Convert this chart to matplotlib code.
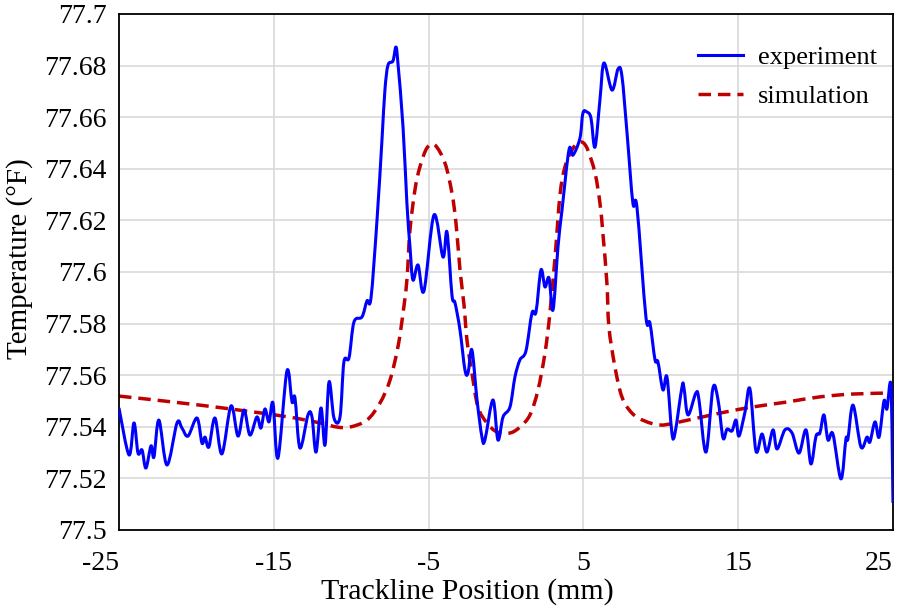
import numpy as np
import matplotlib
matplotlib.use("Agg")
import matplotlib.pyplot as plt
from matplotlib.path import Path
from matplotlib.patches import PathPatch
from matplotlib.lines import Line2D

# experiment trace (Trackline position in mm, temperature in F)
exp_x = [-25.00, -24.35, -24.03, -23.77, -23.51, -23.26, -22.93, -22.74, -22.42, -21.90,
         -21.25, -20.93, -20.54, -19.96, -19.64, -19.44, -19.19, -18.80, -18.35, -17.76,
         -17.31, -16.92, -16.54, -16.09, -15.83, -15.57, -15.31, -15.05, -14.73, -14.15,
         -13.82, -13.63, -13.31, -12.79, -12.53, -12.27, -11.95, -11.69, -11.43, -11.11,
         -10.72, -10.47, -10.14, -9.82, -9.30, -8.98, -8.72, -8.33, -8.01, -7.82,
         -7.62, -7.30, -7.11, -6.98, -6.65, -6.40, -6.20, -6.01, -5.68, -5.30,
         -4.65, -4.07, -3.81, -3.49, -3.29, -2.97, -2.65, -2.45, -2.20, -1.87,
         -1.55, -1.36, -0.84, -0.52, -0.19, 0.26, 0.58, 0.90, 1.29, 1.68,
         1.94, 2.26, 2.52, 2.78, 3.04, 3.36, 3.62, 4.07, 4.33, 4.78,
         4.97, 5.23, 5.49, 5.75, 6.07, 6.33, 6.85, 7.24, 7.49, 7.82,
         8.20, 8.46, 9.04, 9.30, 9.63, 9.82, 10.14, 10.40, 10.72, 10.92,
         11.37, 11.50, 11.76, 12.27, 12.47, 12.92, 13.37, 13.70, 14.02, 14.28,
         14.60, 14.86, 15.05, 15.44, 15.76, 16.15, 16.54, 16.86, 17.25, 17.51,
         18.02, 18.48, 18.93, 19.38, 19.70, 20.03, 20.28, 20.54, 20.80, 21.12,
         21.64, 21.96, 22.09, 22.42, 22.93, 23.32, 23.51, 23.84, 24.10, 24.42,
         24.61, 24.87, 25.00]
exp_y = [77.5473, 77.5291, 77.5415, 77.5298, 77.5310, 77.5240, 77.5326, 77.5283, 77.5426, 77.5252,
         77.5415, 77.5395, 77.5364, 77.5434, 77.5337, 77.5360, 77.5322, 77.5434, 77.5295, 77.5481,
         77.5364, 77.5465, 77.5368, 77.5438, 77.5395, 77.5469, 77.5419, 77.5492, 77.5279, 77.5616,
         77.5496, 77.5512, 77.5318, 77.5446, 77.5438, 77.5302, 77.5473, 77.5329, 77.5574, 77.5434,
         77.5438, 77.5651, 77.5667, 77.5806, 77.5826, 77.5888, 77.5899, 77.6202, 77.6512, 77.6705,
         77.6802, 77.6818, 77.6872, 77.6810, 77.6562, 77.6267, 77.6097, 77.5969, 77.6027, 77.5926,
         77.6221, 77.6058, 77.6155, 77.5911, 77.5880, 77.5775, 77.5620, 77.5609, 77.5698, 77.5504,
         77.5360, 77.5349, 77.5504, 77.5349, 77.5438, 77.5477, 77.5593, 77.5659, 77.5694, 77.5841,
         77.5845, 77.6008, 77.5942, 77.5977, 77.5853, 77.6097, 77.6240, 77.6473, 77.6453, 77.6519,
         77.6616, 77.6620, 77.6597, 77.6484, 77.6667, 77.6810, 77.6705, 77.6787, 77.6760, 77.6539,
         77.6267, 77.6252, 77.5826, 77.5802, 77.5659, 77.5651, 77.5543, 77.5593, 77.5376, 77.5376,
         77.5554, 77.5550, 77.5446, 77.5531, 77.5504, 77.5302, 77.5550, 77.5504, 77.5357, 77.5391,
         77.5384, 77.5426, 77.5364, 77.5457, 77.5547, 77.5306, 77.5372, 77.5302, 77.5388, 77.5314,
         77.5388, 77.5376, 77.5298, 77.5388, 77.5256, 77.5364, 77.5376, 77.5446, 77.5349, 77.5372,
         77.5198, 77.5353, 77.5353, 77.5484, 77.5322, 77.5360, 77.5341, 77.5419, 77.5360, 77.5500,
         77.5469, 77.5558, 77.5105]

# simulation
sim_x = [-25.00, -19.77, -14.47, -12.02, -10.92, -10.08, -8.98, -8.14, -7.49, -6.98,
         -6.65, -6.40, -6.20, -5.88, -5.56, -5.10, -4.59, -3.94, -3.49, -3.23,
         -2.97, -2.71, -2.52, -2.20, -1.81, -1.23, -0.58, 0.26, 0.90, 1.55,
         2.07, 2.52, 2.84, 3.17, 3.49, 3.81, 4.26, 4.78, 5.23, 5.75,
         6.07, 6.27, 6.52, 6.65, 7.04, 7.49, 8.14, 8.98, 9.95, 10.92,
         13.82, 15.96, 18.15, 20.28, 22.42, 25.00]
sim_y = [77.5519, 77.5484, 77.5442, 77.5415, 77.5399, 77.5399, 77.5426, 77.5492, 77.5581, 77.5709,
         77.5841, 77.5969, 77.6163, 77.6318, 77.6407, 77.6481, 77.6492, 77.6422, 77.6306, 77.6190,
         77.6008, 77.5872, 77.5736, 77.5609, 77.5477, 77.5415, 77.5380, 77.5376, 77.5399, 77.5446,
         77.5543, 77.5686, 77.5841, 77.6058, 77.6298, 77.6407, 77.6473, 77.6504, 77.6481, 77.6384,
         77.6267, 77.6143, 77.5957, 77.5787, 77.5632, 77.5516, 77.5453, 77.5422, 77.5407, 77.5415,
         77.5453, 77.5477, 77.5496, 77.5516, 77.5527, 77.5531]

x_ticks = [-25, -15, -5, 5, 15, 25]
y_ticks = [77.5, 77.52, 77.54, 77.56, 77.58, 77.6, 77.62, 77.64, 77.66, 77.68, 77.7]
y_tick_labels = ["77.5", "77.52", "77.54", "77.56", "77.58", "77.6", "77.62", "77.64", "77.66", "77.68", "77.7"]


def smooth_path(x, y):
    # smoothed line like excel: bezier through the points (catmull-rom handles)
    p = np.column_stack([x, y]).astype(float)
    n = len(p)
    verts = [p[0]]
    codes = [Path.MOVETO]
    for i in range(n - 1):
        p0 = p[i - 1] if i > 0 else p[i]
        p3 = p[i + 2] if i + 2 < n else p[i + 1]
        c1 = p[i] + (p[i + 1] - p0) / 6.0
        c2 = p[i + 1] - (p3 - p[i]) / 6.0
        verts += [c1, c2, p[i + 1]]
        codes += [Path.CURVE4] * 3
    return Path(verts, codes)


plt.rcParams['font.family'] = ['Liberation Serif', 'DejaVu Serif']

fig = plt.figure(figsize=(9.04, 6.08), dpi=100)
ax = fig.add_axes([0.1316, 0.1283, 0.8562, 0.8487])

exp_color = "#0000FF"
sim_color = "#C00000"
exp_line = PathPatch(smooth_path(exp_x, exp_y), fill=False, edgecolor=exp_color, lw=2.2,
                     joinstyle="round", capstyle="butt", zorder=3)
sim_line = PathPatch(smooth_path(sim_x, sim_y), fill=False, edgecolor=sim_color, lw=2.5,
                     linestyle=(0, (3.6, 2.0)), capstyle="butt", zorder=2)
ax.add_patch(exp_line)
ax.add_patch(sim_line)

ax.set_xlim(-25, 25)
ax.set_ylim(77.5, 77.7)
ax.set_xticks(x_ticks)
ax.set_xticklabels([str(t) for t in x_ticks])
ax.set_yticks(y_ticks)
ax.set_yticklabels(y_tick_labels)
ax.tick_params(length=0, labelsize=20)
ax.tick_params(axis="y", pad=9)
ax.tick_params(axis="x", pad=15)
xlabels = ax.get_xticklabels()
xlabels[0].set_ha("right")
xlabels[-1].set_ha("right")
ax.grid(True, color="#D9D9D9", lw=1.2)
ax.set_axisbelow(True)
for s in ax.spines.values():
    s.set_linewidth(1.3)

ax.set_xlabel("Trackline Position (mm)", fontsize=21.5)
ax.set_ylabel("Temperature (°F)", fontsize=21)
ax.xaxis.set_label_coords(0.45, -0.093)
ax.yaxis.set_label_coords(-0.111, 0.525)

handles = [Line2D([], [], color=exp_color, lw=2.2),
           Line2D([], [], color=sim_color, lw=2.5, dashes=(3.6, 2.0))]
ax.legend(handles, ["experiment", "simulation"], loc="upper right", frameon=False, fontsize=19,
          handlelength=1.7, handletextpad=0.57, bbox_to_anchor=(1.01, 0.985), labelspacing=0.6)

fig.savefig("out.png", dpi=100)
